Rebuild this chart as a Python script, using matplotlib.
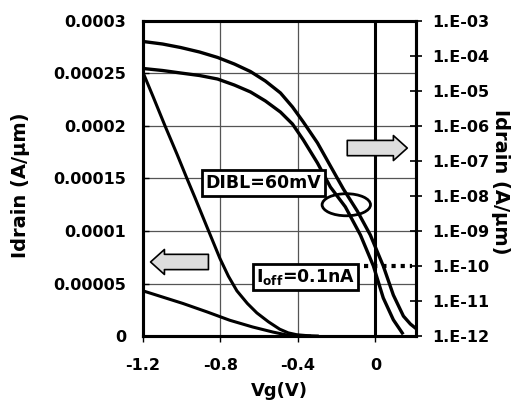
import matplotlib
matplotlib.use('Agg')
import matplotlib.pyplot as plt
from matplotlib.patches import Ellipse

plt.rcParams['font.family'] = ['DejaVu Sans']
plt.rcParams['font.weight'] = 'bold'
plt.rcParams['mathtext.fontset'] = 'custom'
plt.rcParams['mathtext.rm'] = 'DejaVu Sans:bold'
plt.rcParams['mathtext.it'] = 'DejaVu Sans:bold'
plt.rcParams['mathtext.bf'] = 'DejaVu Sans:bold'

# log-scale curves (right axis)
vg_hi = [-1.2, -1.099, -1.006, -0.908, -0.815, -0.728, -0.645, -0.568, -0.49,
         -0.428, -0.372, -0.299, -0.232, -0.165, -0.093, -0.026, 0.041, 0.093,
         0.145, 0.181, 0.212]
id_hi_log = [2.6e-4, 2.2e-4, 1.75e-4, 1.3e-4, 9.1e-5, 5.9e-5, 3.6e-5, 1.93e-5,
             8.8e-6, 3.5e-6, 1.3e-6, 3.3e-7, 7.2e-8, 1.58e-8, 3.7e-9, 7.7e-10,
             1.0e-10, 1.48e-11, 3.7e-12, 2.2e-12, 1.6e-12]
vg_lo = [-1.2, -1.099, -1.006, -0.908, -0.815, -0.728, -0.645, -0.568, -0.49,
         -0.428, -0.372, -0.299, -0.232, -0.155, -0.077, -0.01, 0.041, 0.093,
         0.139]
id_lo_log = [4.4e-5, 3.85e-5, 3.27e-5, 2.77e-5, 2.2e-5, 1.48e-5, 9.4e-6, 5.2e-6,
             2.5e-6, 1.14e-6, 4.0e-7, 8.8e-8, 1.8e-8, 4.9e-9, 7.7e-10, 1.0e-10,
             1.22e-11, 2.9e-12, 1.22e-12]

# linear-scale curves (left axis)
vg_lin_hi = [-1.2, -1.148, -1.086, -1.024, -0.973, -0.932, -0.87, -0.803,
             -0.759, -0.715, -0.661, -0.612, -0.552, -0.494, -0.45, -0.406,
             -0.35, -0.3]
id_lin_hi = [2.51e-4, 2.28e-4, 2.0e-4, 1.73e-4, 1.5e-4, 1.32e-4, 1.04e-4,
             7.4e-5, 5.7e-5, 4.3e-5, 3.1e-5, 2.2e-5, 1.35e-5, 6.5e-6, 3.0e-6,
             1.2e-6, 3e-7, 0]
vg_lin_lo = [-1.2, -1.097, -0.994, -0.87, -0.752, -0.634, -0.53, -0.458, -0.34]
id_lin_lo = [4.3e-5, 3.7e-5, 3.1e-5, 2.3e-5, 1.5e-5, 8.6e-6, 3.8e-6, 1.0e-6, 0]

xticks = [-1.2, -0.8, -0.4, 0]
xtick_labels = ['-1.2', '-0.8', '-0.4', '0']
lin_ticks = [0, 0.00005, 0.0001, 0.00015, 0.0002, 0.00025, 0.0003]
lin_labels = ['0', '0.00005', '0.0001', '0.00015', '0.0002', '0.00025', '0.0003']
log_exps = list(range(-12, -2))
ioff = 1e-10

fig = plt.figure(figsize=(5.22, 4.08), dpi=100)
ax = fig.add_axes([143/522, 1-336/408, 273/522, 315/408])
ax2 = ax.twinx()

ax.set_xlim(-1.2, 0.21)
ax.set_ylim(0, 0.0003)
ax2.set_yscale('log')
ax2.set_ylim(1e-12, 1e-3)

# grid
for t in lin_ticks[1:-1]:
    ax.axhline(t, color='#555555', lw=0.9, zorder=1)
for t in xticks[1:3]:
    ax.axvline(t, color='#555555', lw=0.9, zorder=1)
ax.axvline(0, color='k', lw=2.2, zorder=2)

ax.plot(vg_lin_hi, id_lin_hi, color='k', lw=2.2)
ax.plot(vg_lin_lo, id_lin_lo, color='k', lw=2.2)
ax2.plot(vg_hi, id_hi_log, color='k', lw=2.4)
ax2.plot(vg_lo, id_lo_log, color='k', lw=2.4)
ax2.plot([-0.06, 0.19], [ioff, ioff], color='k', lw=3, dashes=(1, 1.2))

# annotations
ax2.add_patch(Ellipse((-0.15, 1.25e-4), 0.25, 2.1e-5, transform=ax.transData,
                      fill=False, ec='k', lw=2))
ax2.text(-0.578, 1.457e-4, 'DIBL=60mV', transform=ax.transData, fontsize=12.5,
         ha='center', va='center',
         bbox=dict(boxstyle='square,pad=0.22', fc='white', ec='k', lw=2))
ax2.text(-0.361, 5.6e-5, r'I$_{\mathrm{off}}$=0.1nA', transform=ax.transData,
         fontsize=12.5, ha='center', va='center',
         bbox=dict(boxstyle='square,pad=0.18', fc='white', ec='k', lw=2))
arrow = dict(arrowstyle='simple,head_length=10,head_width=18,tail_width=11',
             mutation_scale=1, fc='#dddddd', ec='k', lw=1.2,
             shrinkA=0, shrinkB=0)
ax2.annotate('', xy=(0.165, 1.79e-4), xytext=(-0.145, 1.79e-4),
             xycoords=ax.transData, textcoords=ax.transData, arrowprops=arrow)
ax2.annotate('', xy=(-1.161, 7.05e-5), xytext=(-0.862, 7.05e-5),
             xycoords=ax.transData, textcoords=ax.transData, arrowprops=arrow)

# axes styling
ax.set_xticks(xticks)
ax.set_xticklabels(xtick_labels)
ax.set_yticks(lin_ticks)
ax.set_yticklabels(lin_labels)
ax.tick_params(axis='x', direction='out', length=4, width=1, pad=12, labelsize=11.5)
ax.tick_params(axis='y', direction='in', length=4, width=1, pad=12, labelsize=11.5)
ax2.set_yticks([10.0**e for e in log_exps])
ax2.set_yticklabels(['1.E-%02d' % -e for e in log_exps])
ax2.minorticks_off()
ax2.tick_params(axis='y', direction='inout', length=8, width=1.2, pad=8, labelsize=11.5)

for a in (ax, ax2):
    for s in a.spines.values():
        s.set_linewidth(2.2)

ax.set_xlabel('Vg(V)', fontsize=13, fontweight='bold')
ax.xaxis.set_label_coords(0.5, -0.145)
ax.set_ylabel('Idrain (A/\u03bcm)', fontsize=14, fontweight='bold')
ax.yaxis.set_label_coords(-0.415, 0.48)
ax2.set_ylabel('Idrain (A/\u03bcm)', fontsize=14, fontweight='bold', rotation=270)
ax2.yaxis.set_label_coords(1.345, 0.49)

fig.savefig('out.png', dpi=100)
